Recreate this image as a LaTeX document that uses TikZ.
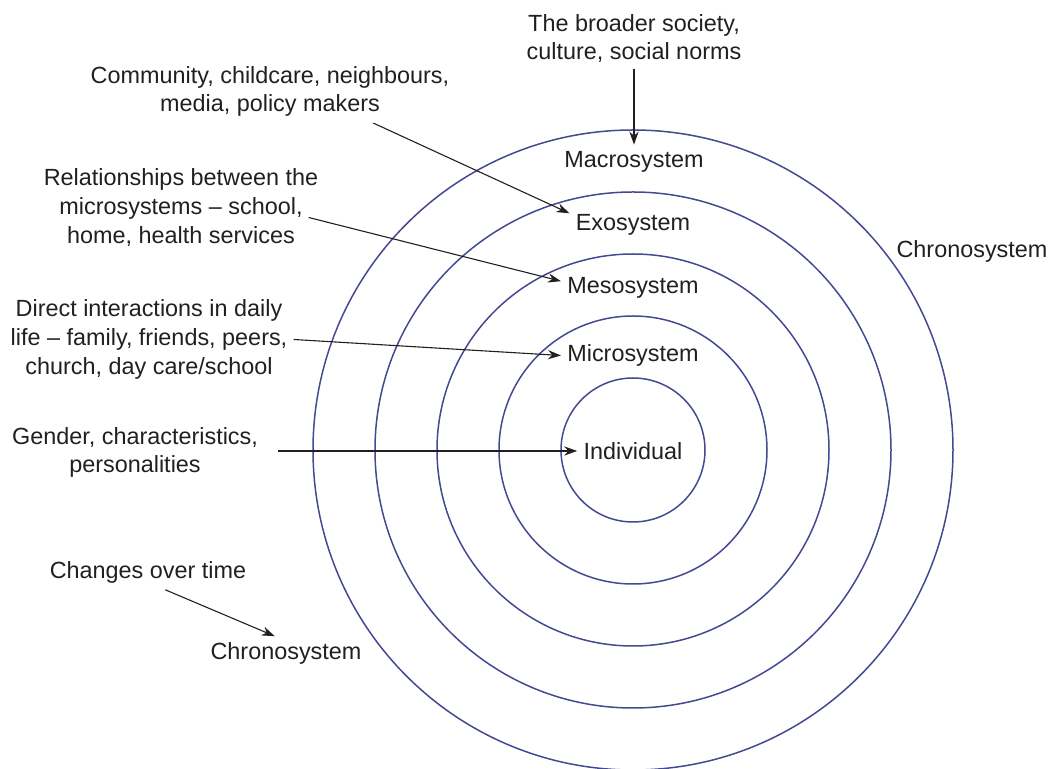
\documentclass[tikz,border=0pt]{standalone}
\usepackage{fontspec}
\setmainfont{Liberation Sans}
\usepackage{tikz}
\usetikzlibrary{arrows.meta}
\definecolor{ringblue}{RGB}{68,74,146}
\definecolor{ink}{RGB}{35,31,32}

\begin{document}
\begin{tikzpicture}[x=0.5pt,y=-0.5pt,
  lbl/.style={inner sep=3pt,text=ink,align=center,font=\fontsize{11.7pt}{14.3pt}\selectfont},
  ring/.style={draw=ringblue,line width=0.75pt},
  pointer/.style={draw=ink,line width=0.55pt,-{Stealth[length=6.5pt,width=4.6pt]}}]
\useasboundingbox (0,0) rectangle (1056,769);
\coordinate (ctr) at (633,450);
\foreach \r in {72,134,196,258,320} \draw[ring] (ctr) circle (\r);
% names of the systems
\node[lbl] (macro) at (634,161.5) {Macrosystem};
\node[lbl] (exo) at (633,224.5) {Exosystem};
\node[lbl] (meso) at (633,287.5) {Mesosystem};
\node[lbl] (micro) at (633,355.5) {Microsystem};
\node[lbl] (indiv) at (633,451) {Individual};
\node[lbl] (chronoR) at (972,251.5) {Chronosystem};
\node[lbl] (chronoL) at (286,653.5) {Chronosystem};
% what each system holds
\node[lbl] (broader) at (634,38.5) {The broader society,\\culture, social norms};
\node[lbl] (community) at (270,91.5) {Community, childcare, neighbours,\\media, policy makers};
\node[lbl] (relations) at (181,207.5) {Relationships between the\\microsystems -- school,\\home, health services};
\node[lbl] (direct) at (149,339.5) {Direct interactions in daily\\life -- family, friends, peers,\\church, day care/school};
\node[lbl] (gender) at (135,452.5) {Gender, characteristics,\\personalities};
\node[lbl] (changes) at (148,572.5) {Changes over time};
\draw[pointer] (broader.south) -- (broader.south |- macro.north);
\draw[pointer] (community.-17) -- (exo.170);
\draw[pointer] ([xshift=-8pt,yshift=-5pt]relations.east) -- (meso.175);
\draw[pointer] (direct.east) -- (micro.west);
\draw[pointer,shorten <=7pt] (indiv.west -| gender.east) -- (indiv.west);
\draw[pointer] (changes.-45) -- (chronoL.123);
\end{tikzpicture}
\end{document}
